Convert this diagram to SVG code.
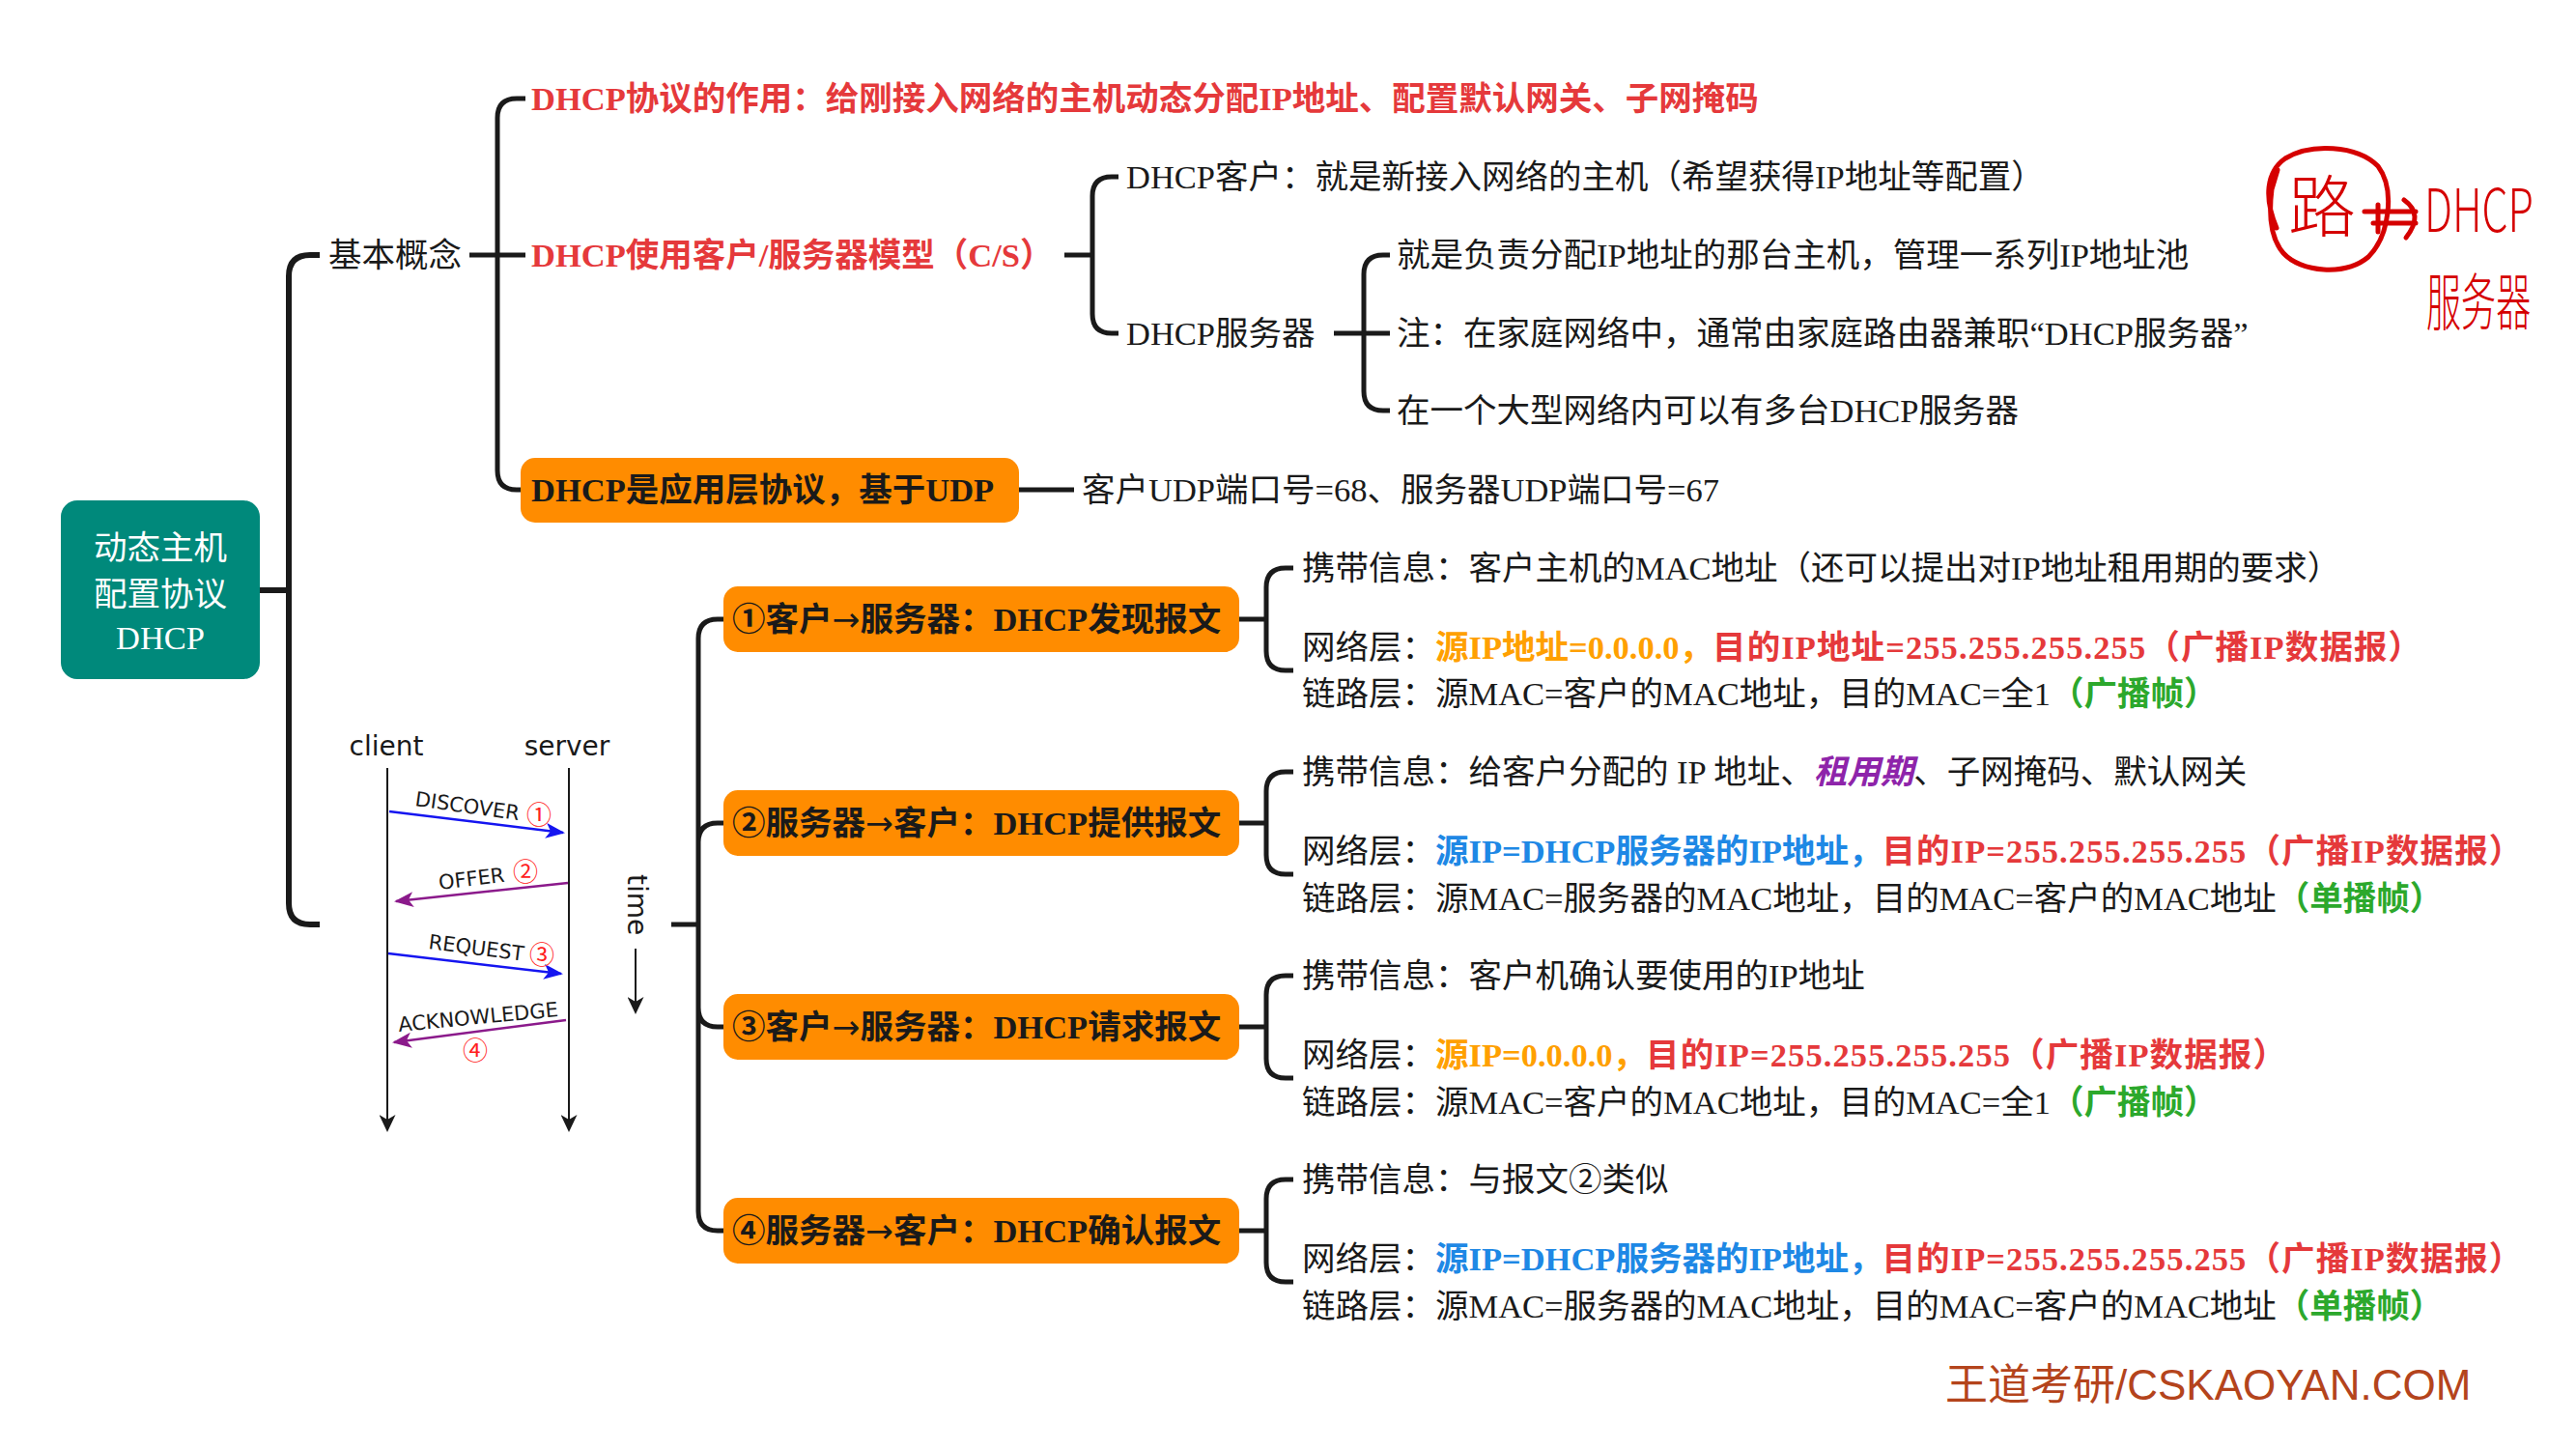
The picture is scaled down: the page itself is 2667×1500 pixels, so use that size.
<svg xmlns="http://www.w3.org/2000/svg" width="2667" height="1500" viewBox="0 0 2667 1500">
<style>
.t{font-family:"Liberation Serif","Noto Sans CJK SC",serif;font-size:34.5px;fill:#1a1a1a}
.b{font-weight:bold}
.red{fill:#E5393B}
.ls{letter-spacing:1.1px}
.org{fill:#FFA000}
.blu{fill:#1E88E5}
.grn{fill:#2CA82C}
.pur{fill:#8E24AA;font-style:italic}
.wh{fill:#ffffff}
.ar{font-family:"DejaVu Sans",sans-serif;font-weight:normal}
.ln{fill:none;stroke:#1a1a1a;stroke-width:5}
.ln6{fill:none;stroke:#1a1a1a;stroke-width:6}
.box{fill:#FF8C00}
.sq{font-family:"DejaVu Sans",sans-serif;fill:#1a1a1a}
.num{font-family:"Noto Sans CJK SC",sans-serif;font-size:26px;fill:#FF2020}
.hw{fill:none;stroke:#D50000;stroke-width:5;stroke-linecap:round;stroke-linejoin:round}
.hwt{font-family:"Noto Sans CJK SC","Noto Sans",sans-serif;fill:#D50000}
</style>
<defs>
<marker id="ak" markerUnits="userSpaceOnUse" markerWidth="18" markerHeight="17" refX="16" refY="8.5" orient="auto"><path d="M0,0 L18,8.5 L0,17 L5,8.5 z" fill="#1a1a1a"/></marker>
<marker id="ab" markerUnits="userSpaceOnUse" markerWidth="20" markerHeight="16" refX="18" refY="8" orient="auto"><path d="M0,0 L20,8 L0,16 L5,8 z" fill="#1515F0"/></marker>
<marker id="ap" markerUnits="userSpaceOnUse" markerWidth="20" markerHeight="16" refX="18" refY="8" orient="auto"><path d="M0,0 L20,8 L0,16 L5,8 z" fill="#8B1A8B"/></marker>
</defs>
<rect width="2667" height="1500" fill="#ffffff"/>

<g id="connectors">
<path class="ln6" d="M269 611 H299 M299 611 V286 Q299 264 321 264 H331 M299 611 V935 Q299 957 321 957 H331"/>
<path class="ln" d="M486 264 H515 M515 264 V122 Q515 102 535 102 H544 M515 264 H544 M515 264 V487 Q515 507 535 507 H541"/>
<path class="ln" d="M1055 507 H1112"/>
<path class="ln" d="M1102 264 H1131 M1131 264 V203 Q1131 183 1151 183 H1158 M1131 264 V325 Q1131 345 1151 345 H1158"/>
<path class="ln" d="M1381 345 H1412 M1412 345 V284 Q1412 264 1432 264 H1439 M1412 345 H1439 M1412 345 V405 Q1412 425 1432 425 H1439"/>
<path class="ln" d="M695 957 H723 M723 957 V661 Q723 641 743 641 H751 M723 957 V872 Q723 852 743 852 H751 M723 957 V1043 Q723 1063 743 1063 H751 M723 957 V1254 Q723 1274 743 1274 H751"/>
<path class="ln" d="M1283 641 H1311 M1311 641 V608 Q1311 588 1331 588 H1339 M1311 641 V674 Q1311 694 1331 694 H1339"/>
<path class="ln" d="M1283 852 H1311 M1311 852 V819 Q1311 799 1331 799 H1339 M1311 852 V885 Q1311 905 1331 905 H1339"/>
<path class="ln" d="M1283 1063 H1311 M1311 1063 V1030 Q1311 1010 1331 1010 H1339 M1311 1063 V1096 Q1311 1116 1331 1116 H1339"/>
<path class="ln" d="M1283 1274 H1311 M1311 1274 V1241 Q1311 1221 1331 1221 H1339 M1311 1274 V1307 Q1311 1327 1331 1327 H1339"/>
</g>

<g id="root">
<rect x="63" y="518" width="206" height="185" rx="17" fill="#00897B"/>
<text class="t wh" x="166" y="579" text-anchor="middle">动态主机</text>
<text class="t wh" x="166" y="627" text-anchor="middle">配置协议</text>
<text class="t wh" x="166" y="672" text-anchor="middle">DHCP</text>
</g>

<g id="basic">
<text class="t" x="340" y="276">基本概念</text>
</g>
<g id="role">
<text class="t b red" x="550" y="114">DHCP协议的作用：给刚接入网络的主机动态分配IP地址、配置默认网关、子网掩码</text>
</g>
<g id="cs">
<text class="t b red" x="550" y="276">DHCP使用客户/服务器模型（C/S）</text>
</g>
<g id="udp">
<rect class="box" x="539" y="474" width="516" height="67" rx="15"/>
<text class="t b" x="550" y="519">DHCP是应用层协议，基于UDP</text>
</g>
<g id="ports">
<text class="t" x="1120" y="519">客户UDP端口号=68、服务器UDP端口号=67</text>
</g>
<g id="client-def">
<text class="t" x="1166" y="195">DHCP客户：就是新接入网络的主机（希望获得IP地址等配置）</text>
</g>
<g id="server-def">
<text class="t" x="1166" y="357">DHCP服务器</text>
</g>
<g id="server-1"><text class="t" x="1446" y="276">就是负责分配IP地址的那台主机，管理一系列IP地址池</text></g>
<g id="server-2"><text class="t" x="1446" y="357">注：在家庭网络中，通常由家庭路由器兼职“DHCP服务器”</text></g>
<g id="server-3"><text class="t" x="1446" y="437">在一个大型网络内可以有多台DHCP服务器</text></g>

<g id="annotation">
<path class="hw" d="M2357 236 C2344 205 2346 178 2366 164 C2392 148 2440 150 2462 172 C2480 196 2474 244 2452 266 C2428 286 2382 282 2364 262 C2350 246 2349 220 2352 196 L2358 176"/>
<text class="hwt" x="2404" y="240" font-size="70" font-weight="300" text-anchor="middle">路</text>
<path class="hw" d="M2448 219 H2501 M2457 231 H2501 M2489 207 Q2510 222 2491 246 M2462 212 V240"/>
<text class="hwt" font-size="44" font-weight="300" transform="translate(2510 240) scale(0.98 1.4)">DHCP</text>
<text class="hwt" font-size="44" font-weight="300" transform="translate(2512 336) scale(0.82 1.45)">服务器</text>
</g>

<g id="sequence">
<text class="sq" x="400" y="782" font-size="28" text-anchor="middle">client</text>
<text class="sq" x="587" y="782" font-size="28" text-anchor="middle">server</text>
<path d="M401 795 V1170" stroke="#1a1a1a" stroke-width="2" marker-end="url(#ak)"/>
<path d="M589 795 V1170" stroke="#1a1a1a" stroke-width="2" marker-end="url(#ak)"/>
<path d="M403 840 L583 862" stroke="#1515F0" stroke-width="2.5" marker-end="url(#ab)"/>
<path d="M588 914 L410 933" stroke="#8B1A8B" stroke-width="2.5" marker-end="url(#ap)"/>
<path d="M402 987 L581 1008" stroke="#1515F0" stroke-width="2.5" marker-end="url(#ab)"/>
<path d="M586 1056 L408 1079" stroke="#8B1A8B" stroke-width="2.5" marker-end="url(#ap)"/>
<text class="sq" font-size="21" transform="translate(429 834) rotate(8)">DISCOVER</text>
<text class="sq" font-size="21" transform="translate(455 921) rotate(-7)">OFFER</text>
<text class="sq" font-size="21" transform="translate(443 982) rotate(7.3)">REQUEST</text>
<text class="sq" font-size="21" transform="translate(413 1068) rotate(-5.5)">ACKNOWLEDGE</text>
<text class="num" x="558" y="853" text-anchor="middle">①</text>
<text class="num" x="544" y="912" text-anchor="middle">②</text>
<text class="num" x="561" y="998" text-anchor="middle">③</text>
<text class="num" x="492" y="1097" text-anchor="middle">④</text>
<text class="sq" font-size="28" transform="translate(650 905) rotate(90)">time</text>
<path d="M658 982 V1048" stroke="#1a1a1a" stroke-width="2" marker-end="url(#ak)"/>
</g>

<g id="msg1">
<rect class="box" x="749" y="607" width="534" height="68" rx="15"/>
<text class="t b" x="758" y="653">①客户<tspan class="ar">→</tspan>服务器：DHCP发现报文</text>
</g>
<g id="msg2">
<rect class="box" x="749" y="818" width="534" height="68" rx="15"/>
<text class="t b" x="758" y="864">②服务器<tspan class="ar">→</tspan>客户：DHCP提供报文</text>
</g>
<g id="msg3">
<rect class="box" x="749" y="1029" width="534" height="68" rx="15"/>
<text class="t b" x="758" y="1075">③客户<tspan class="ar">→</tspan>服务器：DHCP请求报文</text>
</g>
<g id="msg4">
<rect class="box" x="749" y="1240" width="534" height="68" rx="15"/>
<text class="t b" x="758" y="1286">④服务器<tspan class="ar">→</tspan>客户：DHCP确认报文</text>
</g>

<g id="msg1-info">
<text class="t" x="1348" y="600">携带信息：客户主机的MAC地址（还可以提出对IP地址租用期的要求）</text>
</g>
<g id="msg1-layers">
<text class="t" x="1348" y="682">网络层：<tspan class="b org">源IP地址=0.0.0.0，</tspan><tspan class="b red ls">目的IP地址=255.255.255.255（广播IP数据报）</tspan></text>
<text class="t" x="1348" y="730">链路层：源MAC=客户的MAC地址，目的MAC=全1<tspan class="b grn">（广播帧）</tspan></text>
</g>
<g id="msg2-info">
<text class="t" x="1348" y="811">携带信息：给客户分配的 IP 地址、<tspan class="b pur">租用期</tspan>、子网掩码、默认网关</text>
</g>
<g id="msg2-layers">
<text class="t" x="1348" y="893">网络层：<tspan class="b blu">源IP=DHCP服务器的IP地址，</tspan><tspan class="b red ls">目的IP=255.255.255.255（广播IP数据报）</tspan></text>
<text class="t" x="1348" y="942">链路层：源MAC=服务器的MAC地址，目的MAC=客户的MAC地址<tspan class="b grn">（单播帧）</tspan></text>
</g>
<g id="msg3-info">
<text class="t" x="1348" y="1022">携带信息：客户机确认要使用的IP地址</text>
</g>
<g id="msg3-layers">
<text class="t" x="1348" y="1104">网络层：<tspan class="b org">源IP=0.0.0.0，</tspan><tspan class="b red ls">目的IP=255.255.255.255（广播IP数据报）</tspan></text>
<text class="t" x="1348" y="1153">链路层：源MAC=客户的MAC地址，目的MAC=全1<tspan class="b grn">（广播帧）</tspan></text>
</g>
<g id="msg4-info">
<text class="t" x="1348" y="1233">携带信息：与报文②类似</text>
</g>
<g id="msg4-layers">
<text class="t" x="1348" y="1315">网络层：<tspan class="b blu">源IP=DHCP服务器的IP地址，</tspan><tspan class="b red ls">目的IP=255.255.255.255（广播IP数据报）</tspan></text>
<text class="t" x="1348" y="1364">链路层：源MAC=服务器的MAC地址，目的MAC=客户的MAC地址<tspan class="b grn">（单播帧）</tspan></text>
</g>

<g id="watermark">
<text x="2014" y="1449" font-family="Liberation Sans, Noto Sans CJK SC, sans-serif" font-size="44" fill="#B4441C">王道考研/CSKAOYAN.COM</text>
</g>
</svg>
